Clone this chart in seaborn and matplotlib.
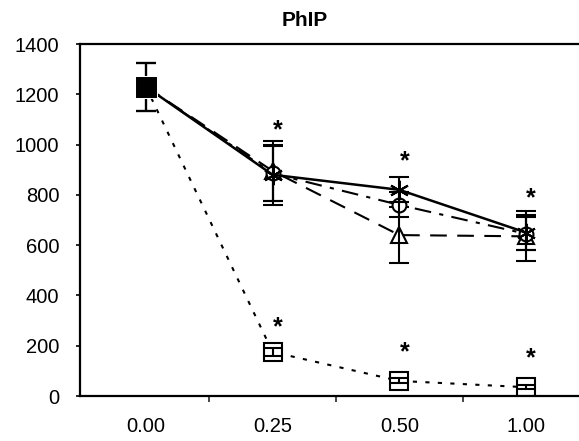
import matplotlib
matplotlib.use("Agg")
import matplotlib.pyplot as plt
import seaborn as sns
import numpy as np

sns.set_theme(style="white")
plt.rcParams['font.family'] = ['Liberation Sans', 'DejaVu Sans']

# ---- data ----
doses = ["0.00", "0.25", "0.50", "1.00"]
title = "PhIP"
y_ticks = [0, 200, 400, 600, 800, 1000, 1200, 1400]

control_val = [1230]
control_err = [95]

s_solid = [1230, 880, 820, 650]
s_solid_err = [95, 120, 50, 70]
s_dashdot = [1230, 885, 760, 645]
s_dashdot_err = [95, 110, 50, 65]
s_dash = [1230, 895, 640, 635]
s_dash_err = [95, 118, 110, 100]
s_dot = [1230, 175, 60, 35]
s_dot_err = [95, 15, 10, 8]

sig_high = [None, 1055, 935, 785]
sig_low = [None, 275, 175, 150]

# ---- figure ----
fig = plt.figure(figsize=(5.79, 4.41), dpi=100)
ax = fig.add_axes([80/579, (441-396)/441, 1 - 80/579, (396-44)/441])
xpos = np.arange(len(doses))

def series(vals, errs, ls, marker, mfc, ms, lw, dashes=None):
    kw = dict(x=xpos, y=vals, ax=ax, color='black', marker=marker, markersize=ms,
              markerfacecolor=mfc, markeredgecolor='black', markeredgewidth=1.5,
              linewidth=lw, sort=False, errorbar=None, legend=False)
    line = sns.lineplot(linestyle=ls, **kw).lines[-1]
    if dashes is not None:
        line.set_dashes(dashes)
    ax.errorbar(xpos, vals, yerr=errs, fmt='none', ecolor='black', elinewidth=1.5,
                capsize=7, capthick=1.5)

series(s_dot, s_dot_err, ':', 's', 'white', 13, 1.5, dashes=(2, 4))
series(s_dash, s_dash_err, '--', '^', 'white', 12, 1.5, dashes=(8, 5))
series(s_dashdot, s_dashdot_err, '-.', 'o', 'white', 10, 1.5, dashes=(8, 4, 2, 4))
series(s_solid, s_solid_err, '-', (6, 2, 0), 'black', 14, 1.8)

# control filled square
sns.lineplot(x=xpos[:1], y=control_val, ax=ax, marker='s', markersize=16, color='black',
             markerfacecolor='black', linewidth=0, errorbar=None, legend=False)

# significance marks
for i in range(1, len(doses)):
    for v in (sig_high[i], sig_low[i]):
        ax.text(xpos[i] + 0.04, v, '*', ha='center', va='center', fontsize=18,
                fontweight='bold', color='black')

ax.set_xlim(-0.52, 3.418)
ax.set_ylim(0, 1400)
ax.set_yticks(y_ticks)
ax.set_yticklabels([str(t) for t in y_ticks])
ax.set_xticks(xpos)
ax.set_xticklabels(doses)
ax.set_xticks([0.5, 1.5, 2.5], minor=True)
ax.tick_params(axis='x', which='major', length=0, pad=15, labelsize=14.5, colors='black')
ax.tick_params(axis='x', which='minor', length=4, width=1.2, direction='out', bottom=True)
ax.tick_params(axis='y', which='major', length=3, width=1.2, direction='out', left=True,
               pad=12, labelsize=14.5, colors='black')
for s in ['left', 'bottom', 'top']:
    ax.spines[s].set_visible(True)
    ax.spines[s].set_color('black')
    ax.spines[s].set_linewidth(1.6)
ax.spines['right'].set_visible(False)
ax.grid(False)
ax.set_xlabel('')
ax.set_ylabel('')

fig.text(305/579, 1 - 20/441, title, ha='center', va='center', fontsize=15,
         fontweight='bold', color='black')

fig.savefig('out.png', dpi=100, facecolor='white')
